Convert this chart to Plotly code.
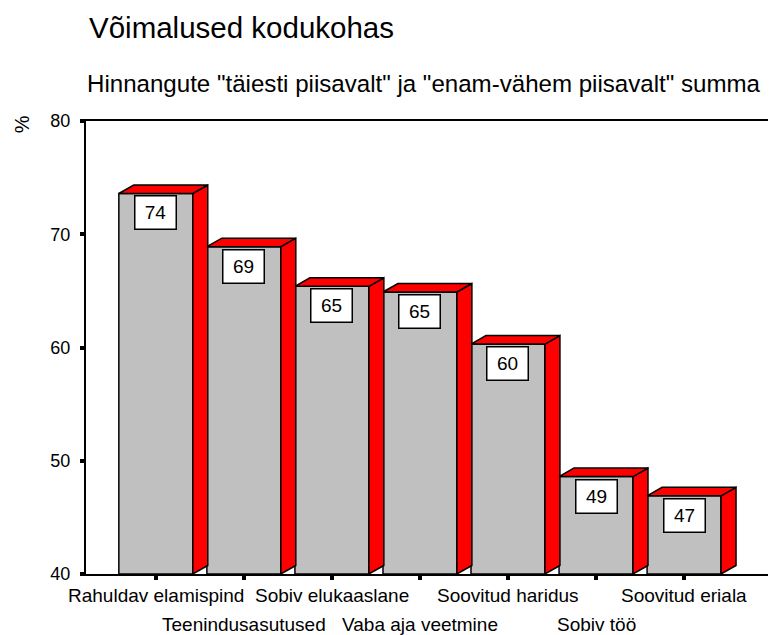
import plotly.graph_objects as go

categories = ["Rahuldav elamispind", "Teenindusasutused", "Sobiv elukaaslane",
              "Vaba aja veetmine", "Soovitud haridus", "Sobiv töö", "Soovitud eriala"]
values = [73.6, 68.9, 65.4, 64.9, 60.3, 48.6, 46.9]
value_labels = ["74", "69", "65", "65", "60", "49", "47"]
y_ticks = [40, 50, 60, 70, 80]

BASE = 40
HALF = 0.42      # half bar width (category units)
DX = 0.17        # depth offset x (category units)
DY = 0.75        # depth offset y (value units)
FONT = "Arial, Liberation Sans, sans-serif"

# page body has an 8px margin; figure placed at (8, 8)
L, T, R, B = 78, 113, 4, 61
W, H = 768, 627
PW, PH = W - L - R, H - T - B


def px_x(x):  # page pixel -> paper x
    return (x - 8 - L) / PW


def px_y(y):  # page pixel -> paper y
    return (H - B - (y - 8)) / PH


fig = go.Figure()

# front faces
fig.add_trace(go.Bar(
    x=list(range(len(values))), y=[v - BASE for v in values], base=BASE,
    width=2 * HALF, marker=dict(color="#c0c0c0", line=dict(color="black", width=1.5)),
    hoverinfo="skip", showlegend=False))

# tops and sides
for i, v in enumerate(values):
    x0, x1 = i - HALF, i + HALF
    fig.add_trace(go.Scatter(
        x=[x1, x1 + DX, x1 + DX, x1, x1], y=[BASE, BASE + DY, v + DY, v, BASE],
        mode="lines", fill="toself", fillcolor="#ff0000",
        line=dict(color="black", width=1.5), hoverinfo="skip", showlegend=False))
    fig.add_trace(go.Scatter(
        x=[x0, x0 + DX, x1 + DX, x1, x0], y=[v, v + DY, v + DY, v, v],
        mode="lines", fill="toself", fillcolor="#ff0000",
        line=dict(color="black", width=1.5), hoverinfo="skip", showlegend=False))

annotations = []
for i, (v, t) in enumerate(zip(values, value_labels)):
    annotations.append(dict(
        x=i, y=v, xref="x", yref="y", text=t, showarrow=False,
        yanchor="top", yshift=-2, font=dict(family=FONT, size=19, color="black"),
        bgcolor="white", bordercolor="black", borderwidth=1.5, borderpad=5,
        width=30, height=22))

for i, c in enumerate(categories):
    annotations.append(dict(
        x=i, y=0, xref="x", yref="paper", text=c, showarrow=False,
        yanchor="top", yshift=-9 if i % 2 == 0 else -38,
        font=dict(family=FONT, size=19, color="black")))

annotations += [
    dict(x=px_x(87), y=px_y(27), xref="paper", yref="paper",
         text="Võimalused kodukohas", showarrow=False, xanchor="left", yanchor="middle",
         font=dict(family=FONT, size=29.5, color="black")),
    dict(x=px_x(85), y=px_y(83), xref="paper", yref="paper",
         text='Hinnangute "täiesti piisavalt" ja "enam-vähem piisavalt" summa',
         showarrow=False, xanchor="left", yanchor="middle",
         font=dict(family=FONT, size=24.1, color="black")),
    dict(x=px_x(22), y=px_y(124), xref="paper", yref="paper",
         text="%", textangle=-90, showarrow=False, xanchor="center", yanchor="middle",
         font=dict(family=FONT, size=20, color="black")),
]

fig.update_layout(
    width=W, height=H,
    margin=dict(l=L, r=R, t=T, b=B),
    paper_bgcolor="white", plot_bgcolor="white",
    font=dict(family=FONT, size=18, color="black"),
    showlegend=False,
    annotations=annotations,
    xaxis=dict(range=[-0.793, 6.976], tickvals=list(range(len(categories))),
               showticklabels=False, ticks="outside", ticklen=4, tickwidth=4,
               tickcolor="black", showline=True, linecolor="black", linewidth=2,
               mirror=True, showgrid=False, zeroline=False, fixedrange=True),
    yaxis=dict(range=[BASE, 80], tickvals=y_ticks, ticks="outside", ticklen=4,
               tickwidth=4, tickcolor="black", showline=True, linecolor="black",
               linewidth=2, mirror=True, showgrid=False, zeroline=False,
               ticklabelstandoff=6,
               tickfont=dict(family=FONT, size=18, color="black")),
)

fig.write_html("out.html")
